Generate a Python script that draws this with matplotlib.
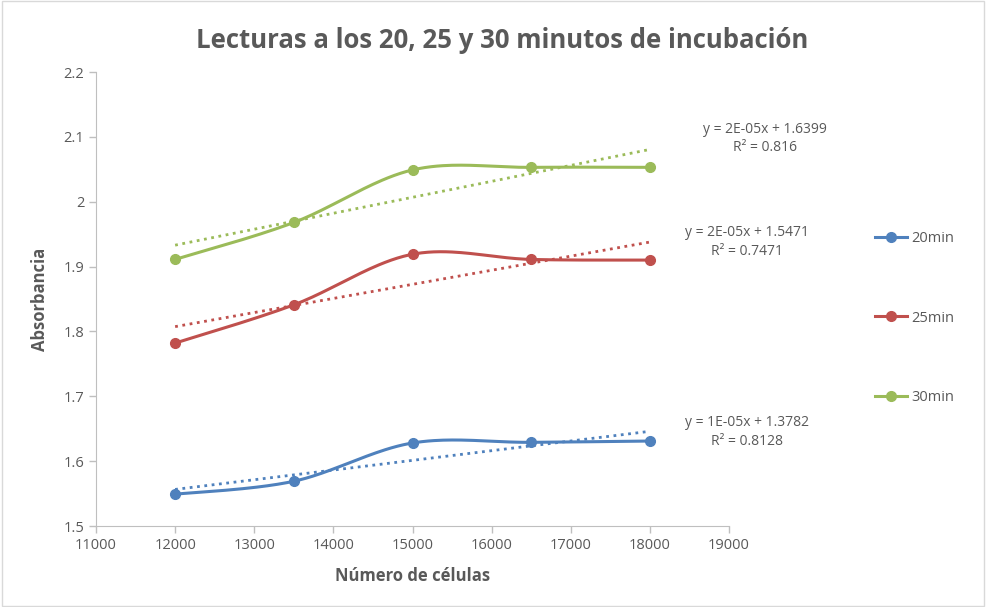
import numpy as np
import matplotlib
matplotlib.use("Agg")
import matplotlib.pyplot as plt
from matplotlib.lines import Line2D

plt.rcParams['font.family'] = ['Open Sans', 'DejaVu Sans']

# Data
celulas = [12000, 13500, 15000, 16500, 18000]
abs_20 = [1.549, 1.569, 1.628, 1.629, 1.631]
abs_25 = [1.782, 1.841, 1.919, 1.911, 1.910]
abs_30 = [1.911, 1.968, 2.049, 2.053, 2.053]
series_names = ['20min', '25min', '30min']
colors = ['#4F81BD', '#C0504D', '#9BBB59']
eq_labels = ['y = 1E-05x + 1.3782\nR² = 0.8128',
             'y = 2E-05x + 1.5471\nR² = 0.7471',
             'y = 2E-05x + 1.6399\nR² = 0.816']
eq_pos = [(19230, 1.645), (19230, 1.938), (19457, 2.097)]

TXT = '#595959'


# Excel style smoothing (Catmull-Rom through bezier segments)
def smooth(x, y, n=40):
    x = np.asarray(x, float)
    y = np.asarray(y, float)
    px = np.concatenate([[x[0]], x, [x[-1]]])
    py = np.concatenate([[y[0]], y, [y[-1]]])
    xs, ys = [], []
    t = np.linspace(0, 1, n)
    for i in range(1, len(px) - 2):
        p0 = np.array([px[i], py[i]])
        p3 = np.array([px[i + 1], py[i + 1]])
        c1 = p0 + (np.array([px[i + 1], py[i + 1]]) - np.array([px[i - 1], py[i - 1]])) / 6
        c2 = p3 - (np.array([px[i + 2], py[i + 2]]) - np.array([px[i], py[i]])) / 6
        b = ((1 - t) ** 3)[:, None] * p0 + (3 * (1 - t) ** 2 * t)[:, None] * c1 \
            + (3 * (1 - t) * t ** 2)[:, None] * c2 + (t ** 3)[:, None] * p3
        xs.extend(b[:, 0])
        ys.extend(b[:, 1])
    return np.array(xs), np.array(ys)


fig = plt.figure(figsize=(9.86, 6.07), dpi=100)
ax = fig.add_axes([96 / 986, 1 - 526 / 607, (729 - 96) / 986, (526 - 72) / 607])

for vals, c in zip([abs_20, abs_25, abs_30], colors):
    sx, sy = smooth(celulas, vals)
    ax.plot(sx, sy, color=c, lw=2.2, solid_capstyle='round')
    ax.plot(celulas, vals, 'o', color=c, ms=7)
    k, b0 = np.polyfit(celulas, vals, 1)
    xt = np.array([celulas[0], celulas[-1]])
    ax.plot(xt, k * xt + b0, ':', color=c, lw=2)

for lab, (ex, ey) in zip(eq_labels, eq_pos):
    ax.text(ex, ey, lab, ha='center', va='center', fontsize=10, color=TXT,
            linespacing=1.3, clip_on=False)

ax.set_xlim(11000, 19000)
ax.set_ylim(1.5, 2.2)
ax.set_xticks(np.arange(11000, 19001, 1000))
ax.set_yticks(np.round(np.arange(1.5, 2.21, 0.1), 1))
ax.set_yticklabels(['1.5', '1.6', '1.7', '1.8', '1.9', '2', '2.1', '2.2'])
ax.tick_params(colors='#BFBFBF', labelcolor=TXT, labelsize=10.5, length=5, width=1)
for s in ['top', 'right']:
    ax.spines[s].set_visible(False)
for s in ['left', 'bottom']:
    ax.spines[s].set_color('#BFBFBF')

ax.set_xlabel('Número de células', fontsize=12, fontweight='bold', color=TXT, labelpad=10)
ax.set_ylabel('Absorbancia', fontsize=12, fontweight='bold', color=TXT, labelpad=10)
fig.text(502 / 986, 1 - 41 / 607, 'Lecturas a los 20, 25 y 30 minutos de incubación',
         ha='center', va='center', fontsize=18.5, fontweight='bold', color=TXT)

handles = [Line2D([0], [0], color=c, lw=2.2, marker='o', ms=7) for c in colors]
leg = fig.legend(handles, series_names, loc='center left',
                 bbox_to_anchor=(862 / 986, 1 - 318 / 607), frameon=False,
                 fontsize=10.5, labelspacing=4.4, handlelength=2.2, handletextpad=0.3)
for t in leg.get_texts():
    t.set_color(TXT)

fig.patches.append(plt.Rectangle((0.002, 0.002), 0.996, 0.996, transform=fig.transFigure,
                                 fill=False, edgecolor='#D9D9D9', lw=1))

fig.savefig('out.png', dpi=100)
